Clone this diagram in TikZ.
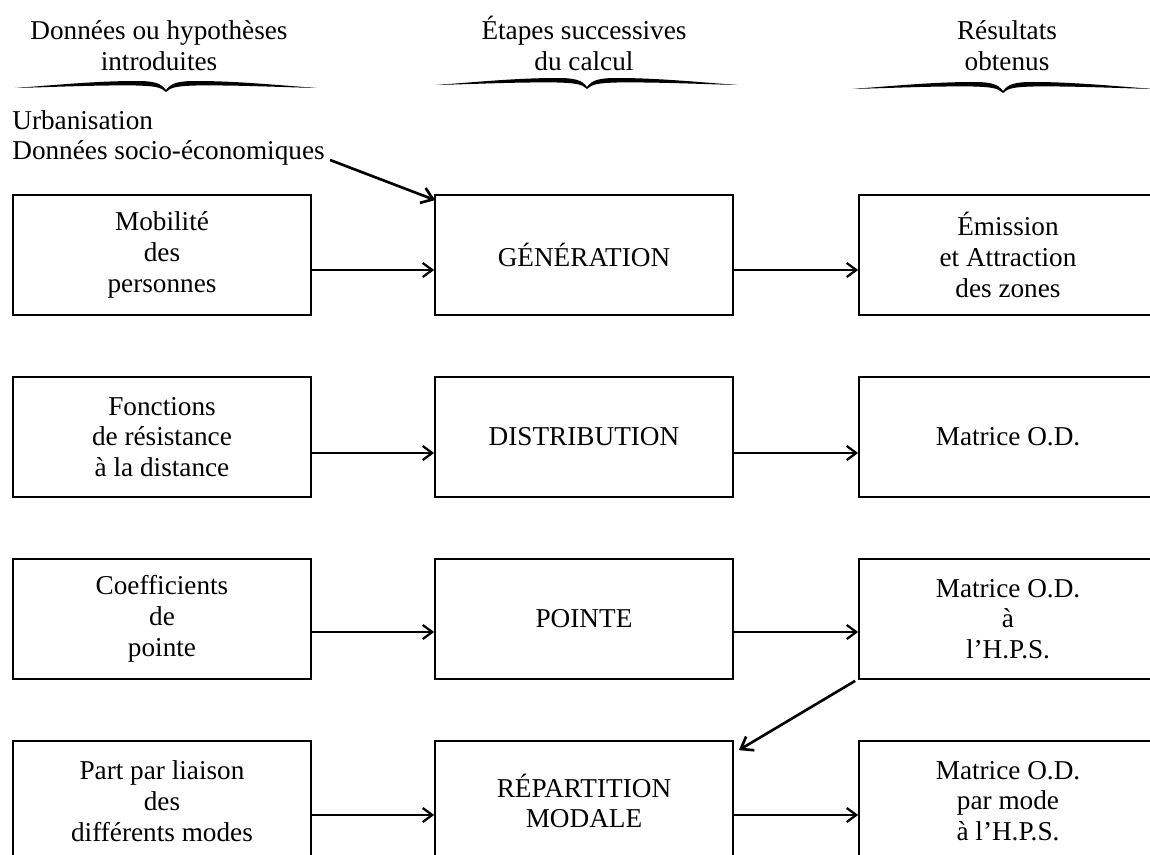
\documentclass[tikz,border=0pt]{standalone}
\usepackage{fontspec}
\setmainfont{Liberation Serif}
\usepackage{tikz}
\usetikzlibrary{arrows.meta,calc}
\tikzset{
  box/.style={draw, line width=1pt, minimum width=5.96cm, minimum height=2.4cm, align=center, inner sep=2pt, font=\fontsize{15.5}{17.5}\selectfont},
  head/.style={align=center, inner sep=0pt, anchor=base, font=\fontsize{15.5}{18}\selectfont},
  lbl/.style={inner sep=0pt, font=\fontsize{15.5}{18}\selectfont},
  ar/.style={-{Straight Barb[length=1.9mm,width=2.8mm,line width=1.3pt]}, line width=0.9pt},
  slant/.style={-{Straight Barb[length=2.2mm,width=3.2mm]}, line width=1.5pt},
  swash/.pic={
    \fill (-151,0) .. controls (-110,-3) and (-70,-7) .. (-30,-7) .. controls (-12,-7) and (-5,-5) .. (0,2)
      .. controls (5,-5) and (12,-7) .. (30,-7) .. controls (70,-7) and (110,-3) .. (151,0)
      .. controls (110,-1) and (70,-3) .. (30,-2.5) .. controls (12,-2) and (5,-1) .. (0,4)
      .. controls (-5,-1) and (-12,-2) .. (-30,-2.5) .. controls (-70,-3) and (-110,-1) .. (-151,0) -- cycle;
  },
}
\begin{document}
\begin{tikzpicture}[x=0.02cm, y=-0.02cm]
\useasboundingbox (0,0) rectangle (1150,855);
\clip (0,0) rectangle (1150,855);
% column heads
\node[head] (h1) at (159,71) {Données ou hypothèses\\introduites};
\node[head] (h2) at (584,71) {Étapes successives\\du calcul};
\node[head] (h3) at (1007,71) {Résultats\\obtenus};
\pic at (166,88) {swash};
\pic at (587,85) {swash};
\pic at (1003,89) {swash};
\node[lbl, anchor=base west] (urb) at (12,130) {Urbanisation};
\node[lbl, anchor=base west] (soc) at (12,159) {Données socio-économiques};
% rows
\node[box] (d1) at (162,255) {Mobilité\\des\\personnes};
\node[box] (e1) at (584,255) {GÉNÉRATION};
\node[box] (r1) at (1008,255) {Émission\\et Attraction\\des zones};
\node[box] (d2) at (162,437) {Fonctions\\de résistance\\à la distance};
\node[box] (e2) at (584,437) {DISTRIBUTION};
\node[box] (r2) at (1008,437) {Matrice O.D.};
\node[box] (d3) at (162,619) {Coefficients\\de\\pointe};
\node[box] (e3) at (584,619) {POINTE};
\node[box] (r3) at (1008,619) {Matrice O.D.\\à\\l’H.P.S.};
\node[box] (d4) at (162,801) {Part par liaison\\des\\différents modes};
\node[box] (e4) at (584,801) {RÉPARTITION\\MODALE};
\node[box] (r4) at (1008,801) {Matrice O.D.\\par mode\\à l’H.P.S.};
% arrows
\draw[ar] ($(d1.east)+(0,15)$) -- ($(e1.west)+(0,15)$); \draw[ar] ($(e1.east)+(0,15)$) -- ($(r1.west)+(0,15)$);
\draw[ar] ($(d2.east)+(0,16)$) -- ($(e2.west)+(0,16)$); \draw[ar] ($(e2.east)+(0,16)$) -- ($(r2.west)+(0,16)$);
\draw[ar] ($(d3.east)+(0,13)$) -- ($(e3.west)+(0,13)$); \draw[ar] ($(e3.east)+(0,13)$) -- ($(r3.west)+(0,13)$);
\draw[ar] ($(d4.east)+(0,14)$) -- ($(e4.west)+(0,14)$); \draw[ar] ($(e4.east)+(0,14)$) -- ($(r4.west)+(0,14)$);
\draw[slant] ($(soc.base east)+(5,1)$) -- ($(e1.north west)+(1,6)$);
\draw[slant] ($(r3.south west)+(-3,1)$) -- ($(e4.north east)+(5,10)$);
\end{tikzpicture}
\end{document}
